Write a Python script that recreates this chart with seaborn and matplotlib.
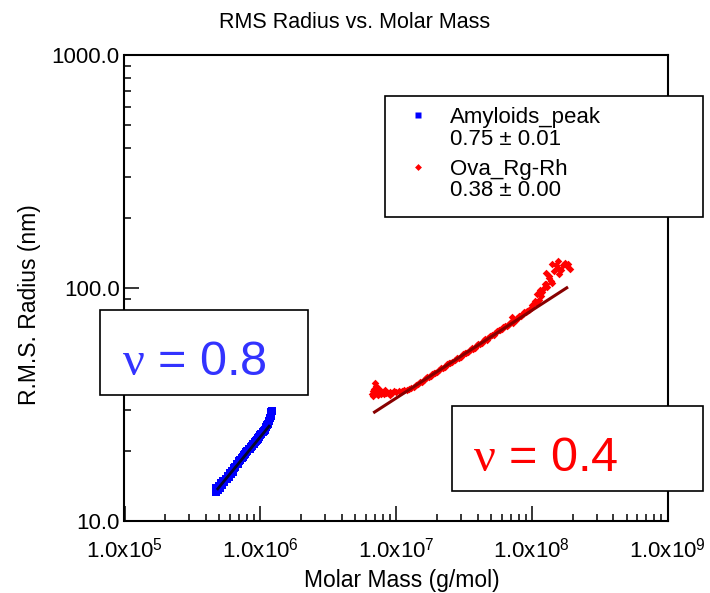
import numpy as np
import pandas as pd
import matplotlib
matplotlib.use("Agg")
import matplotlib.pyplot as plt
import seaborn as sns
from matplotlib.ticker import FixedLocator, FixedFormatter, LogLocator, NullFormatter
from matplotlib.patches import Rectangle
from matplotlib.lines import Line2D

# ---------------- data ----------------
amy_mass = [4.70e5, 4.75e5, 4.85e5, 4.95e5, 5.05e5, 5.15e5, 5.25e5, 5.35e5, 5.45e5, 5.55e5,
            5.65e5, 5.75e5, 5.85e5, 5.95e5, 6.05e5, 6.15e5, 6.25e5, 6.40e5, 6.55e5, 6.70e5,
            6.85e5, 7.00e5, 7.15e5, 7.30e5, 7.45e5, 7.60e5, 7.75e5, 7.90e5, 8.05e5, 8.20e5,
            8.35e5, 8.50e5, 8.65e5, 8.80e5, 8.95e5, 9.10e5, 9.25e5, 9.40e5, 9.55e5, 9.70e5,
            9.85e5, 1.00e6, 1.02e6, 1.04e6, 1.06e6, 1.08e6, 1.10e6, 1.12e6, 1.14e6, 1.16e6,
            1.18e6, 1.19e6, 1.20e6, 1.21e6, 1.215e6]
amy_rg = [13.3, 13.9, 13.6, 14.1, 13.9, 14.5, 14.3, 14.9, 14.7, 15.2,
          15.1, 15.6, 15.5, 16.0, 15.9, 16.4, 16.3, 16.9, 17.0, 17.5,
          17.6, 18.1, 18.2, 18.6, 18.8, 19.2, 19.3, 19.7, 19.9, 20.3,
          20.4, 20.8, 20.9, 21.3, 21.5, 21.8, 22.0, 22.3, 22.5, 22.8,
          23.0, 23.3, 23.6, 24.0, 24.3, 24.7, 25.2, 25.7, 26.2, 26.9,
          27.6, 28.2, 28.8, 29.3, 29.8]

ova_mass = [6.70e6, 6.75e6, 6.80e6, 6.85e6, 6.90e6, 7.00e6, 7.05e6, 7.10e6, 7.20e6, 7.30e6,
            7.40e6, 7.50e6, 7.60e6, 7.80e6, 8.00e6, 8.20e6, 8.30e6, 8.50e6, 8.80e6, 9.00e6,
            9.10e6, 9.40e6, 9.70e6, 1.00e7, 1.05e7, 1.10e7, 1.15e7, 1.20e7, 1.25e7, 1.30e7,
            1.35e7, 1.40e7, 1.45e7, 1.50e7, 1.55e7, 1.60e7, 1.65e7, 1.70e7, 1.75e7, 1.80e7,
            1.85e7, 1.90e7, 1.95e7, 2.00e7, 2.08e7, 2.15e7, 2.23e7, 2.30e7, 2.38e7, 2.45e7,
            2.52e7, 2.60e7, 2.70e7, 2.80e7, 2.90e7, 3.00e7, 3.10e7, 3.20e7, 3.30e7, 3.40e7,
            3.50e7, 3.60e7, 3.70e7, 3.80e7, 3.92e7, 4.05e7, 4.18e7, 4.30e7, 4.42e7, 4.55e7,
            4.68e7, 4.80e7, 4.95e7, 5.10e7, 5.25e7, 5.40e7, 5.55e7, 5.70e7, 5.85e7, 6.00e7,
            6.18e7, 6.35e7, 6.52e7, 6.70e7, 6.88e7, 7.05e7, 7.16e7, 7.22e7, 7.40e7, 7.60e7,
            7.80e7, 8.00e7, 8.20e7, 8.40e7, 8.60e7, 8.80e7, 9.00e7, 9.30e7, 9.55e7, 9.80e7,
            1.01e8, 1.05e8, 1.07e8, 1.10e8, 1.13e8, 1.15e8, 1.16e8, 1.19e8, 1.23e8, 1.25e8,
            1.27e8, 1.28e8, 1.30e8, 1.34e8, 1.35e8, 1.38e8, 1.40e8, 1.42e8, 1.45e8, 1.50e8,
            1.55e8, 1.57e8, 1.60e8, 1.65e8, 1.70e8, 1.77e8, 1.82e8, 1.86e8, 1.90e8]
ova_rg = [35.0, 36.2, 34.5, 37.0, 35.5, 36.2, 39.0, 38.0, 35.0, 35.8,
          34.8, 36.8, 35.5, 35.0, 35.8, 35.2, 36.5, 35.6, 35.3, 34.8,
          35.9, 35.5, 36.0, 35.8, 36.2, 36.0, 36.5, 36.6, 36.9, 37.3,
          37.6, 38.4, 38.6, 39.5, 39.6, 40.1, 40.9, 41.4, 41.5, 41.9,
          42.7, 43.2, 43.2, 43.6, 44.6, 45.2, 45.3, 45.8, 47.0, 47.6,
          47.5, 48.0, 49.2, 50.0, 50.0, 50.7, 51.9, 52.6, 52.5, 53.0,
          54.3, 55.0, 54.9, 55.5, 56.9, 57.6, 57.4, 58.1, 59.6, 60.3,
          60.1, 61.0, 62.3, 63.0, 63.0, 64.0, 65.3, 65.8, 66.0, 67.0,
          68.2, 68.8, 69.0, 69.6, 71.0, 71.5, 75.3, 71.0, 72.8, 73.0,
          74.2, 75.5, 75.8, 76.2, 77.4, 78.8, 78.6, 79.8, 80.5, 82.0,
          84.5, 88.0, 86.0, 94.0, 89.0, 98.0, 92.0, 96.0, 100.0, 104.0,
          116.0, 104.0, 101.0, 110.0, 113.0, 107.0, 127.0, 105.0, 118.0, 126.0,
          130.0, 122.0, 115.0, 120.0, 125.0, 128.0, 124.0, 127.0, 121.0]

amy_fit_mass = [4.79e5, 1.18e6]
amy_fit_rg = [13.6, 25.8]
ova_fit_mass = [6.8e6, 1.85e8]
ova_fit_rg = [29.1, 101.0]

series_names = ["Amyloids_peak", "Ova_Rg-Rh"]
fit_labels = ["0.75 \u00b1 0.01", "0.38 \u00b1 0.00"]
nu_labels = [r"$\nu$ = 0.8", r"$\nu$ = 0.4"]

x_ticks = [1e5, 1e6, 1e7, 1e8, 1e9]
x_tick_labels = [r"1.0x10$^{\mathregular{5}}$", r"1.0x10$^{\mathregular{6}}$",
                 r"1.0x10$^{\mathregular{7}}$", r"1.0x10$^{\mathregular{8}}$",
                 r"1.0x10$^{\mathregular{9}}$"]
y_ticks = [10, 100, 1000]
y_tick_labels = ["10.0", "100.0", "1000.0"]

assert len(amy_mass) == len(amy_rg) and len(ova_mass) == len(ova_rg)

# ---------------- style ----------------
sns.set_style("ticks")
plt.rcParams['font.family'] = ['Liberation Sans', 'DejaVu Sans']
plt.rcParams['mathtext.fontset'] = 'custom'
plt.rcParams['mathtext.rm'] = 'Liberation Sans'
plt.rcParams['mathtext.it'] = 'Liberation Serif'
plt.rcParams['mathtext.bf'] = 'Liberation Sans:bold'

W, H = 710, 593
fig = plt.figure(figsize=(W / 100, H / 100), dpi=100)
ax = fig.add_axes([124.5 / W, 1 - 521 / H, 543 / W, 466 / H])

amy_df = pd.DataFrame({"mass": amy_mass, "rg": amy_rg})
ova_df = pd.DataFrame({"mass": ova_mass, "rg": ova_rg})

ax.set_xscale("log")
ax.set_yscale("log")

sns.scatterplot(data=amy_df, x="mass", y="rg", ax=ax, marker="s", s=30,
                color="#0000ff", linewidth=0, legend=False, zorder=3)
sns.scatterplot(data=ova_df, x="mass", y="rg", ax=ax, marker="D", s=15,
                color="#ff0000", linewidth=0, legend=False, zorder=3)
# power-law fit lines
ax.plot(amy_fit_mass, amy_fit_rg, color="#08082a", linewidth=2.0, zorder=6,
        solid_capstyle="butt")
ax.plot(ova_fit_mass, ova_fit_rg, color="#880000", linewidth=2.2, zorder=6,
        solid_capstyle="butt")

ax.set_xlim(1e5, 1e9)
ax.set_ylim(10, 1000)

ax.xaxis.set_major_locator(FixedLocator(x_ticks))
ax.xaxis.set_major_formatter(FixedFormatter(x_tick_labels))
ax.xaxis.set_minor_locator(LogLocator(base=10, subs=np.arange(2, 10), numticks=20))
ax.xaxis.set_minor_formatter(NullFormatter())
ax.yaxis.set_major_locator(FixedLocator(y_ticks))
ax.yaxis.set_major_formatter(FixedFormatter(y_tick_labels))
ax.yaxis.set_minor_locator(LogLocator(base=10, subs=np.arange(2, 10), numticks=20))
ax.yaxis.set_minor_formatter(NullFormatter())

ax.tick_params(which="both", direction="in", top=False, right=False, color="black")
ax.tick_params(which="major", length=11, width=1.1, labelsize=16, labelcolor="black")
ax.tick_params(which="minor", length=5, width=1.1)
ax.tick_params(axis="x", which="major", pad=12)
ax.tick_params(axis="y", which="major", pad=3.5)

for sp in ax.spines.values():
    sp.set_visible(True)
    sp.set_linewidth(1.5)
    sp.set_color("black")

ax.set_xlabel("Molar Mass (g/mol)", fontsize=16.5, color="black")
ax.set_ylabel("R.M.S. Radius (nm)", fontsize=16.5, color="black")
ax.xaxis.set_label_coords((401.6 - 124.5) / 543, (521 - 569) / 466)
ax.yaxis.set_label_coords((41.5 - 124.5) / 543, 0.4635)

fig.text(0.5, 1 - 28 / H, "RMS Radius vs. Molar Mass", ha="center", va="baseline",
         fontsize=15.5, color="black")

# annotation boxes
def fig_box(x0, y0, x1, y1, z=3):
    r = Rectangle((x0 / W, 1 - y1 / H), (x1 - x0) / W, (y1 - y0) / H,
                  transform=fig.transFigure, facecolor="white", edgecolor="black",
                  linewidth=1.2, zorder=z)
    fig.add_artist(r)

fig_box(100, 310, 308, 395)
fig_box(452, 406, 703, 491)
fig_box(385, 96, 703, 217)

t1 = fig.text(121.7 / W, 1 - 375 / H, nu_labels[0], ha="left", va="baseline",
              fontsize=35, color="#3333ff")
t1.set_zorder(6)
t2 = fig.text(473 / W, 1 - 470.7 / H, nu_labels[1], ha="left", va="baseline",
              fontsize=35, color="#ff0000")
t2.set_zorder(6)

# legend (two entries, each with the fit exponent on a second line)
blue_h = Line2D([], [], ls="none", marker="s", ms=4, color="#0000ff", mec="none")
red_h = Line2D([], [], ls="none", marker="D", ms=3.5, color="#ff0000", mec="none")
blank = Line2D([], [], ls="none", marker="None")

common = dict(loc="upper left", bbox_transform=fig.transFigure, frameon=False,
              fontsize=16, borderpad=0, borderaxespad=0, labelspacing=0.03,
              handlelength=1.0, handletextpad=0.955)
leg1 = fig.legend([blue_h, blank], [series_names[0], fit_labels[0]],
                  bbox_to_anchor=(406.6 / W, 1 - 107.1 / H), **common)
leg2 = fig.legend([red_h, blank], [series_names[1], fit_labels[1]],
                  bbox_to_anchor=(406.6 / W, 1 - 158.8 / H), **common)
for lg in (leg1, leg2):
    lg.set_zorder(6)
    for t in lg.get_texts():
        t.set_color("black")

fig.savefig("out.png", dpi=100, facecolor="white")
